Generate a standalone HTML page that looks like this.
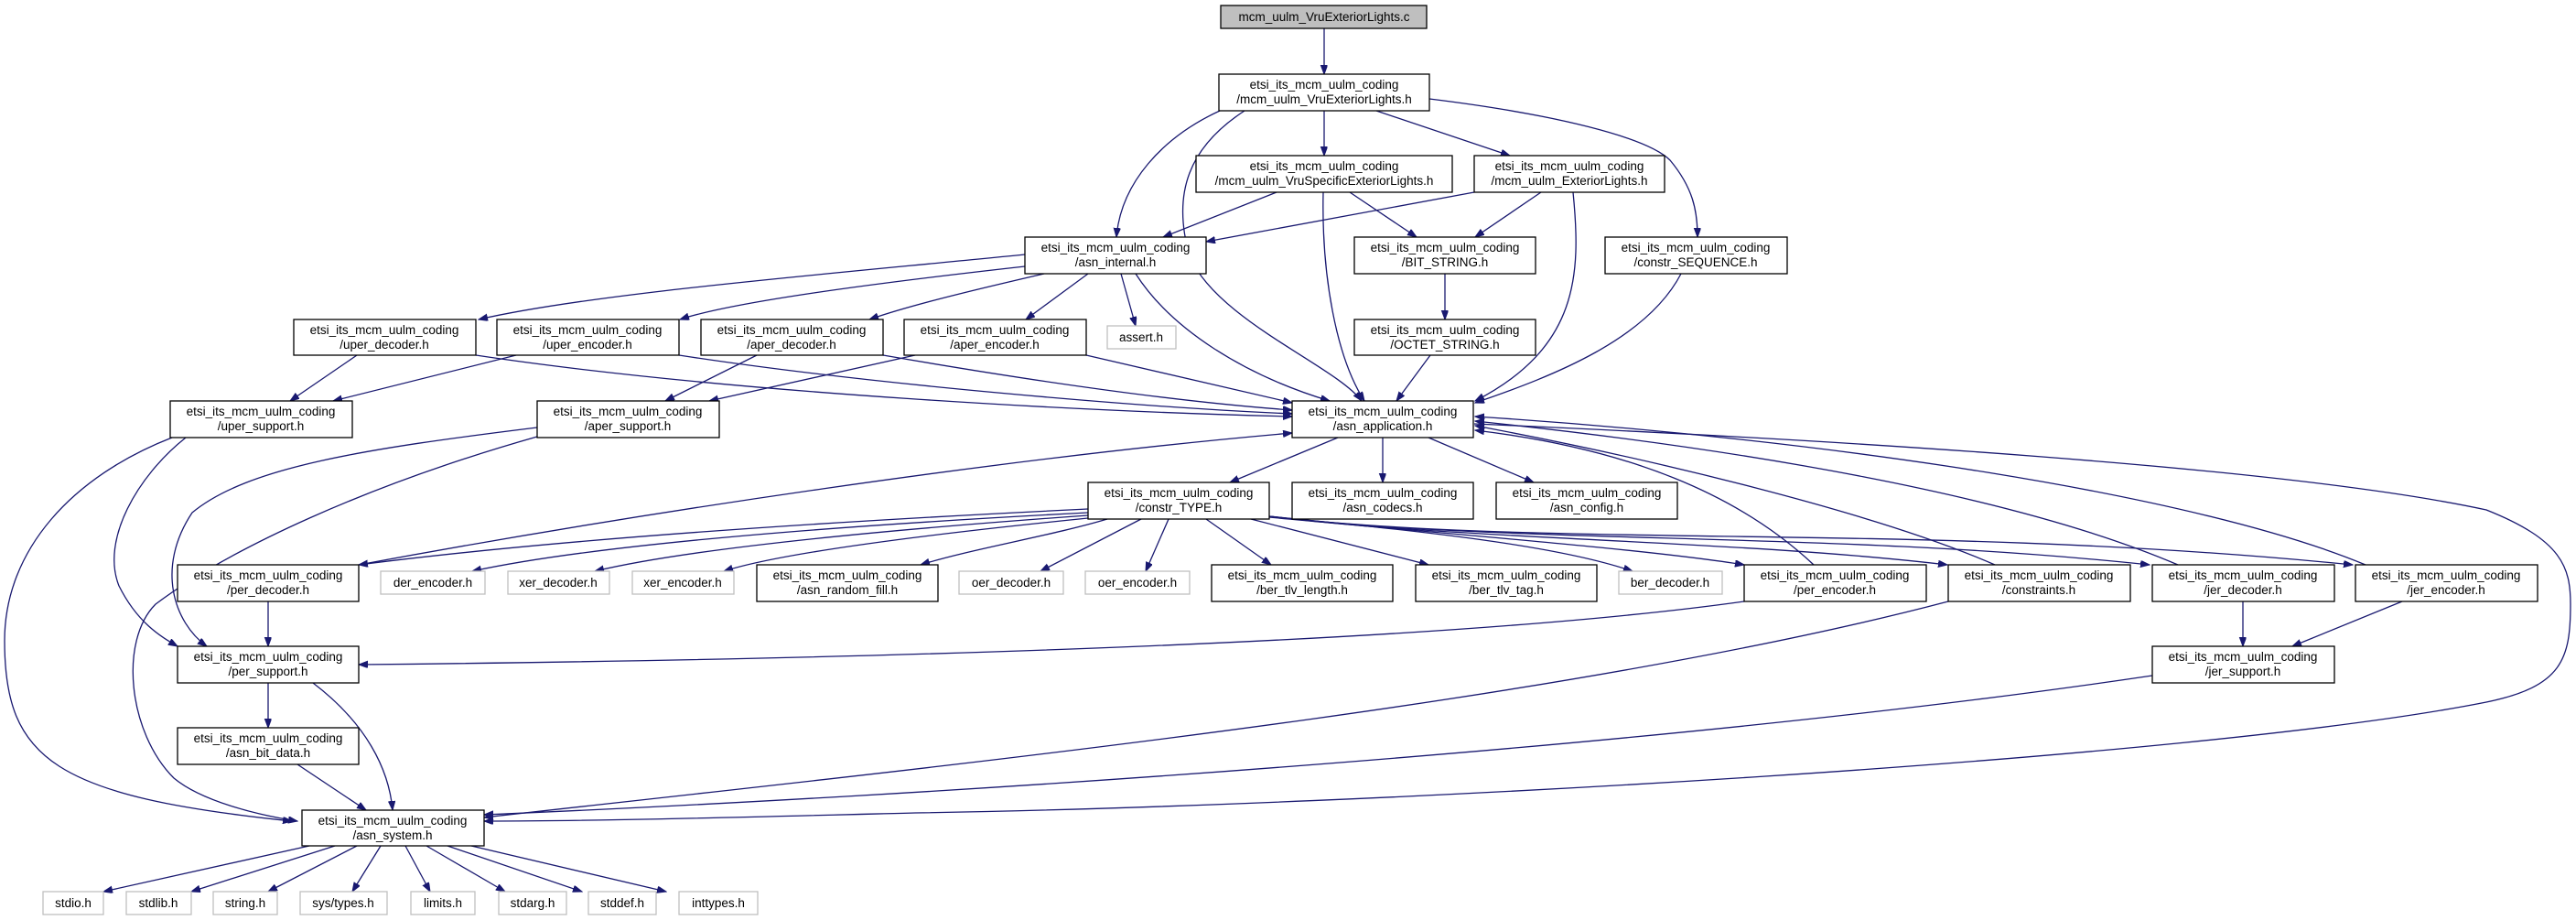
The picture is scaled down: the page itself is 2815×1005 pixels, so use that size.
<!DOCTYPE html>
<html><head><meta charset="utf-8"><style>
html,body{margin:0;padding:0;background:#fff;}
svg{display:block;}
text{font-family:"Liberation Sans","DejaVu Sans",sans-serif;font-size:13.5px;fill:#000;text-anchor:middle;}
.n{fill:#fff;stroke:#000;stroke-width:1.3;}
.g{fill:#fff;stroke:#bfbfbf;stroke-width:1.3;}
.e{fill:none;stroke:#191970;stroke-width:1.3;}
</style></head><body>
<svg width="2815" height="1005" viewBox="0 0 2815 1005" xmlns="http://www.w3.org/2000/svg">
<defs><marker id="a" markerWidth="11" markerHeight="8" refX="10" refY="3.7" orient="auto" markerUnits="userSpaceOnUse"><path d="M0,0 L10,3.7 L0,7.4 z" fill="#191970" stroke="#191970"/></marker></defs>
<g class="e" marker-end="url(#a)">
<path d="M1447,31 L1447,81"/>
<path d="M1333,121 C1270,150 1225,200 1220,259"/>
<path d="M1360,121 C1300,160 1280,210 1300,280 C1330,350 1460,400 1488,438"/>
<path d="M1447,121 L1447,170"/>
<path d="M1504,121 L1650,170"/>
<path d="M1562,108 C1700,125 1800,150 1825,175 C1850,205 1855,230 1855,259"/>
<path d="M1395,210 L1271,259"/>
<path d="M1446,210 C1444,300 1460,390 1491,438"/>
<path d="M1475,210 L1548,259"/>
<path d="M1611,210 L1318,264"/>
<path d="M1684,210 L1612,259"/>
<path d="M1719,210 C1728,300 1725,380 1612,438"/>
<path d="M1225,299 L1241,356"/>
<path d="M1189,299 L1121,349"/>
<path d="M1241,299 C1280,360 1360,410 1453,438"/>
<path d="M1120,278 C900,300 650,320 523,349"/>
<path d="M1120,291 C950,310 800,330 743,349"/>
<path d="M1141,299 C1050,320 990,335 950,349"/>
<path d="M1579,299 L1579,349"/>
<path d="M1563,388 L1526,438"/>
<path d="M1837,299 C1800,370 1700,410 1612,440"/>
<path d="M390,388 L317,438"/>
<path d="M520,388 C800,430 1200,450 1412,455"/>
<path d="M564,388 L364,438"/>
<path d="M742,388 C950,420 1250,445 1412,452"/>
<path d="M827,388 L727,438"/>
<path d="M965,388 C1150,420 1300,440 1412,448"/>
<path d="M1000,388 L775,438"/>
<path d="M1187,388 L1412,440"/>
<path d="M203,478 C150,520 110,590 130,640 C150,680 175,695 194,706"/>
<path d="M188,478 C80,520 5,600 5,700 C5,830 60,870 319,897"/>
<path d="M587,467 C400,490 270,510 210,560 C170,620 190,680 226,706"/>
<path d="M587,477 C400,530 250,600 170,660 C130,700 140,800 190,850 C220,875 280,890 325,897"/>
<path d="M293,657 L293,706"/>
<path d="M392,617 C700,560 1100,500 1412,473"/>
<path d="M1189,556 C900,570 600,590 392,617"/>
<path d="M1189,560 C900,575 650,595 516,624"/>
<path d="M1189,563 C950,580 750,600 650,624"/>
<path d="M1189,566 C1000,585 850,605 791,624"/>
<path d="M1210,567 C1150,585 1060,600 1006,617"/>
<path d="M1247,567 L1137,624"/>
<path d="M1277,567 L1252,624"/>
<path d="M1318,567 L1389,617"/>
<path d="M1367,567 L1561,617"/>
<path d="M1387,564 C1550,580 1700,595 1784,624"/>
<path d="M1387,565 C1600,585 1800,600 1906,617"/>
<path d="M1387,564 C1600,590 1900,590 2128,617"/>
<path d="M1387,564 C1650,595 2000,580 2349,617"/>
<path d="M1387,564 C1700,600 2100,570 2571,617"/>
<path d="M1462,478 L1344,527"/>
<path d="M1511,478 L1511,527"/>
<path d="M1561,478 L1676,527"/>
<path d="M1611,463 C2000,480 2500,510 2717,557 C2800,590 2809,620 2809,660 C2809,720 2800,750 2717,767 C2400,830 1500,880 1000,888 C800,893 650,897 529,897"/>
<path d="M1982,617 C1900,540 1780,490 1612,470"/>
<path d="M2180,617 C2050,560 1800,500 1612,465"/>
<path d="M2380,617 C2200,540 1900,490 1612,460"/>
<path d="M2585,617 C2400,540 2000,480 1612,455"/>
<path d="M1906,657 C1600,700 1000,720 392,726"/>
<path d="M2129,657 C1700,770 1000,840 529,893"/>
<path d="M2451,657 L2451,706"/>
<path d="M2625,657 L2505,706"/>
<path d="M2352,738 C1800,820 1000,870 529,890"/>
<path d="M293,746 L293,795"/>
<path d="M342,746 C400,790 425,840 429,885"/>
<path d="M325,835 L400,885"/>
<path d="M338,924 L113,974"/>
<path d="M366,924 L209,974"/>
<path d="M390,924 L293,974"/>
<path d="M416,924 L385,974"/>
<path d="M443,924 L470,974"/>
<path d="M466,924 L552,974"/>
<path d="M489,924 L636,974"/>
<path d="M515,924 L728,974"/>
</g>
<!-- nodes -->
<rect x="1334" y="6" width="225" height="25" fill="#bfbfbf" stroke="#000" stroke-width="1.3"/><text x="1447" y="23">mcm_uulm_VruExteriorLights.c</text>
<rect class="n" x="1332" y="81" width="230" height="40"/><text x="1447" y="97">etsi_its_mcm_uulm_coding</text><text x="1447" y="113">/mcm_uulm_VruExteriorLights.h</text>
<rect class="n" x="1307" y="170" width="280" height="40"/><text x="1447" y="186">etsi_its_mcm_uulm_coding</text><text x="1447" y="202">/mcm_uulm_VruSpecificExteriorLights.h</text>
<rect class="n" x="1611" y="170" width="208" height="40"/><text x="1715" y="186">etsi_its_mcm_uulm_coding</text><text x="1715" y="202">/mcm_uulm_ExteriorLights.h</text>
<rect class="n" x="1120" y="259" width="198" height="40"/><text x="1219" y="275">etsi_its_mcm_uulm_coding</text><text x="1219" y="291">/asn_internal.h</text>
<rect class="n" x="1480" y="259" width="198" height="40"/><text x="1579" y="275">etsi_its_mcm_uulm_coding</text><text x="1579" y="291">/BIT_STRING.h</text>
<rect class="n" x="1754" y="259" width="199" height="40"/><text x="1853" y="275">etsi_its_mcm_uulm_coding</text><text x="1853" y="291">/constr_SEQUENCE.h</text>
<rect class="n" x="321" y="349" width="199" height="39"/><text x="420" y="365">etsi_its_mcm_uulm_coding</text><text x="420" y="381">/uper_decoder.h</text>
<rect class="n" x="543" y="349" width="199" height="39"/><text x="642" y="365">etsi_its_mcm_uulm_coding</text><text x="642" y="381">/uper_encoder.h</text>
<rect class="n" x="766" y="349" width="199" height="39"/><text x="865" y="365">etsi_its_mcm_uulm_coding</text><text x="865" y="381">/aper_decoder.h</text>
<rect class="n" x="988" y="349" width="199" height="39"/><text x="1087" y="365">etsi_its_mcm_uulm_coding</text><text x="1087" y="381">/aper_encoder.h</text>
<rect class="g" x="1210" y="356" width="75" height="25"/><text x="1247" y="373">assert.h</text>
<rect class="n" x="1480" y="349" width="198" height="39"/><text x="1579" y="365">etsi_its_mcm_uulm_coding</text><text x="1579" y="381">/OCTET_STRING.h</text>
<rect class="n" x="186" y="438" width="199" height="40"/><text x="285" y="454">etsi_its_mcm_uulm_coding</text><text x="285" y="470">/uper_support.h</text>
<rect class="n" x="587" y="438" width="199" height="40"/><text x="686" y="454">etsi_its_mcm_uulm_coding</text><text x="686" y="470">/aper_support.h</text>
<rect class="n" x="1412" y="438" width="198" height="40"/><text x="1511" y="454">etsi_its_mcm_uulm_coding</text><text x="1511" y="470">/asn_application.h</text>
<rect class="n" x="1189" y="527" width="198" height="40"/><text x="1288" y="543">etsi_its_mcm_uulm_coding</text><text x="1288" y="559">/constr_TYPE.h</text>
<rect class="n" x="1412" y="527" width="198" height="40"/><text x="1511" y="543">etsi_its_mcm_uulm_coding</text><text x="1511" y="559">/asn_codecs.h</text>
<rect class="n" x="1635" y="527" width="198" height="40"/><text x="1734" y="543">etsi_its_mcm_uulm_coding</text><text x="1734" y="559">/asn_config.h</text>
<rect class="n" x="194" y="617" width="198" height="40"/><text x="293" y="633">etsi_its_mcm_uulm_coding</text><text x="293" y="649">/per_decoder.h</text>
<rect class="g" x="416" y="624" width="114" height="25"/><text x="473" y="641">der_encoder.h</text>
<rect class="g" x="555" y="624" width="111" height="25"/><text x="610" y="641">xer_decoder.h</text>
<rect class="g" x="691" y="624" width="111" height="25"/><text x="746" y="641">xer_encoder.h</text>
<rect class="n" x="827" y="617" width="198" height="40"/><text x="926" y="633">etsi_its_mcm_uulm_coding</text><text x="926" y="649">/asn_random_fill.h</text>
<rect class="g" x="1048" y="624" width="114" height="25"/><text x="1105" y="641">oer_decoder.h</text>
<rect class="g" x="1186" y="624" width="114" height="25"/><text x="1243" y="641">oer_encoder.h</text>
<rect class="n" x="1324" y="617" width="198" height="40"/><text x="1423" y="633">etsi_its_mcm_uulm_coding</text><text x="1423" y="649">/ber_tlv_length.h</text>
<rect class="n" x="1547" y="617" width="198" height="40"/><text x="1646" y="633">etsi_its_mcm_uulm_coding</text><text x="1646" y="649">/ber_tlv_tag.h</text>
<rect class="g" x="1769" y="624" width="113" height="25"/><text x="1825" y="641">ber_decoder.h</text>
<rect class="n" x="1906" y="617" width="199" height="40"/><text x="2005" y="633">etsi_its_mcm_uulm_coding</text><text x="2005" y="649">/per_encoder.h</text>
<rect class="n" x="2129" y="617" width="199" height="40"/><text x="2228" y="633">etsi_its_mcm_uulm_coding</text><text x="2228" y="649">/constraints.h</text>
<rect class="n" x="2352" y="617" width="199" height="40"/><text x="2451" y="633">etsi_its_mcm_uulm_coding</text><text x="2451" y="649">/jer_decoder.h</text>
<rect class="n" x="2574" y="617" width="199" height="40"/><text x="2673" y="633">etsi_its_mcm_uulm_coding</text><text x="2673" y="649">/jer_encoder.h</text>
<rect class="n" x="194" y="706" width="198" height="40"/><text x="293" y="722">etsi_its_mcm_uulm_coding</text><text x="293" y="738">/per_support.h</text>
<rect class="n" x="2352" y="706" width="199" height="40"/><text x="2451" y="722">etsi_its_mcm_uulm_coding</text><text x="2451" y="738">/jer_support.h</text>
<rect class="n" x="194" y="795" width="198" height="40"/><text x="293" y="811">etsi_its_mcm_uulm_coding</text><text x="293" y="827">/asn_bit_data.h</text>
<rect class="n" x="330" y="885" width="199" height="39"/><text x="429" y="901">etsi_its_mcm_uulm_coding</text><text x="429" y="917">/asn_system.h</text>
<rect class="g" x="47" y="974" width="66" height="25"/><text x="80" y="991">stdio.h</text>
<rect class="g" x="138" y="974" width="71" height="25"/><text x="173" y="991">stdlib.h</text>
<rect class="g" x="233" y="974" width="70" height="25"/><text x="268" y="991">string.h</text>
<rect class="g" x="328" y="974" width="95" height="25"/><text x="375" y="991">sys/types.h</text>
<rect class="g" x="449" y="974" width="70" height="25"/><text x="484" y="991">limits.h</text>
<rect class="g" x="545" y="974" width="74" height="25"/><text x="582" y="991">stdarg.h</text>
<rect class="g" x="643" y="974" width="74" height="25"/><text x="680" y="991">stddef.h</text>
<rect class="g" x="742" y="974" width="86" height="25"/><text x="785" y="991">inttypes.h</text>
</svg>
</body></html>
